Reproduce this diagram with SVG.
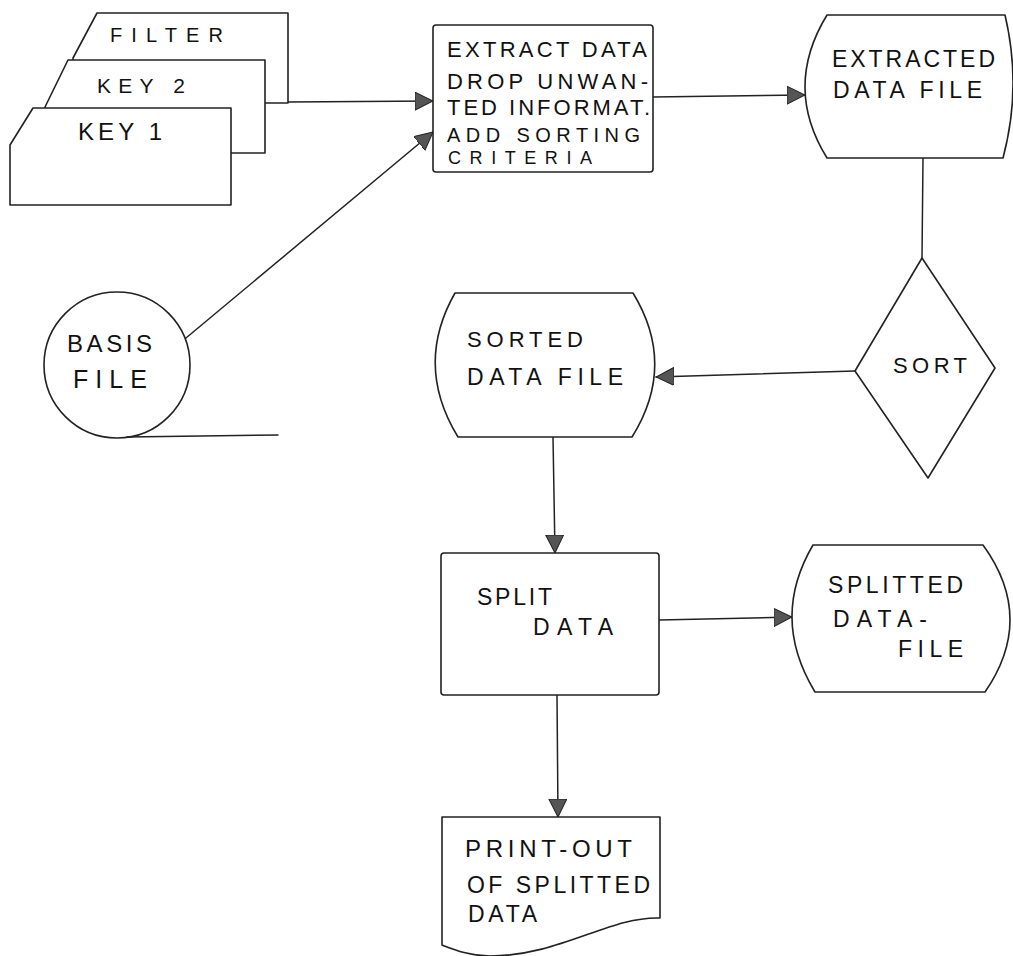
<svg xmlns="http://www.w3.org/2000/svg" width="1013" height="956" viewBox="0 0 1013 956">
<style>
.s{fill:#fff;stroke:#222;stroke-width:1.6;stroke-linejoin:round;stroke-linecap:round}
.c{fill:none;stroke:#222;stroke-width:1.5;stroke-linecap:round}
.t{font-family:"Liberation Sans",Arial,sans-serif;fill:#111}
</style>
<defs>
<marker id="ah" markerUnits="userSpaceOnUse" markerWidth="19" markerHeight="19" refX="18" refY="9" orient="auto">
<path d="M0,0 L18,9 L0,18 Z" fill="#555" stroke="#222" stroke-width="1"/>
</marker>
</defs>
<rect width="1013" height="956" fill="#fff"/>

<g id="connectors">
<path class="c" d="M288,102 L433,101" marker-end="url(#ah)"/>
<path class="c" d="M186,338 L433,132" marker-end="url(#ah)"/>
<path class="c" d="M653,97 L805,95" marker-end="url(#ah)"/>
<path class="c" d="M923,158 L922,258"/>
<path class="c" d="M855,371 L656,377" marker-end="url(#ah)"/>
<path class="c" d="M553,437 L555,553" marker-end="url(#ah)"/>
<path class="c" d="M659,620 L792,617" marker-end="url(#ah)"/>
<path class="c" d="M557,695 L558,817" marker-end="url(#ah)"/>
</g>

<g id="filter">
<path class="s" d="M73,58 L97,13 L288,13 L288,103 L73,103 Z"/>
<text class="t" x="110" y="42" font-size="20" textLength="113" lengthAdjust="spacing">FILTER</text>
</g>
<g id="key2">
<path class="s" d="M45,107 L68,60 L265,60 L265,153 L45,153 Z"/>
<text class="t" x="97" y="93" font-size="21" textLength="88" lengthAdjust="spacing">KEY 2</text>
</g>
<g id="key1">
<path class="s" d="M10,145 L33,108 L231,108 L231,205 L10,205 Z"/>
<text class="t" x="78" y="140" font-size="24" textLength="84" lengthAdjust="spacing">KEY 1</text>
</g>

<g id="extract">
<rect class="s" x="433" y="25" width="220" height="147" rx="3"/>
<text class="t" x="447" y="57" font-size="22" textLength="200" lengthAdjust="spacing">EXTRACT DATA</text>
<text class="t" x="447" y="89" font-size="22" textLength="201" lengthAdjust="spacing">DROP UNWAN-</text>
<text class="t" x="447" y="115" font-size="22" textLength="203" lengthAdjust="spacing">TED INFORMAT.</text>
<text class="t" x="447" y="142" font-size="20" textLength="193" lengthAdjust="spacing">ADD SORTING</text>
<text class="t" x="448" y="164" font-size="18" textLength="144" lengthAdjust="spacing">CRITERIA</text>
</g>

<g id="extracted">
<path class="s" d="M827,15 L1005,15 Q1022,87 1003,158 L827,158 Q783,87 827,15 Z"/>
<text class="t" x="832" y="67" font-size="23" textLength="163" lengthAdjust="spacing">EXTRACTED</text>
<text class="t" x="833" y="98" font-size="23" textLength="149" lengthAdjust="spacing">DATA FILE</text>
</g>

<g id="sort">
<path class="s" d="M922,258 L995,368 L928,478 L855,371 Z"/>
<text class="t" x="893" y="373" font-size="22" textLength="74" lengthAdjust="spacing">SORT</text>
</g>

<g id="basis">
<circle class="s" cx="117" cy="365" r="73"/>
<path class="c" d="M127,437 L278,435"/>
<text class="t" x="67" y="352" font-size="24" textLength="85" lengthAdjust="spacing">BASIS</text>
<text class="t" x="73" y="388" font-size="25" textLength="74" lengthAdjust="spacing">FILE</text>
</g>

<g id="sorted">
<path class="s" d="M455,293 L633,293 Q677,365 632,437 L458,437 Q414,365 455,293 Z"/>
<text class="t" x="467" y="347" font-size="22" textLength="116" lengthAdjust="spacing">SORTED</text>
<text class="t" x="467" y="385" font-size="23" textLength="156" lengthAdjust="spacing">DATA FILE</text>
</g>

<g id="split">
<rect class="s" x="441" y="553" width="218" height="142" rx="3"/>
<text class="t" x="477" y="605" font-size="23" textLength="75" lengthAdjust="spacing">SPLIT</text>
<text class="t" x="533" y="635" font-size="23" textLength="80" lengthAdjust="spacing">DATA</text>
</g>

<g id="splitted">
<path class="s" d="M813,545 L983,545 Q1036,618 985,692 L815,692 Q770,618 813,545 Z"/>
<text class="t" x="828" y="593" font-size="23" textLength="135" lengthAdjust="spacing">SPLITTED</text>
<text class="t" x="833" y="627" font-size="23" textLength="94" lengthAdjust="spacing">DATA-</text>
<text class="t" x="898" y="657" font-size="23" textLength="65" lengthAdjust="spacing">FILE</text>
</g>

<g id="printout">
<path class="s" d="M442,817 L660,817 L660,918 C610,916 560,956 490,956 C470,956 455,950 442,945 Z"/>
<text class="t" x="465" y="857" font-size="24" textLength="167" lengthAdjust="spacing">PRINT-OUT</text>
<text class="t" x="467" y="893" font-size="23" textLength="183" lengthAdjust="spacing">OF SPLITTED</text>
<text class="t" x="468" y="922" font-size="23" textLength="69" lengthAdjust="spacing">DATA</text>
</g>
</svg>
